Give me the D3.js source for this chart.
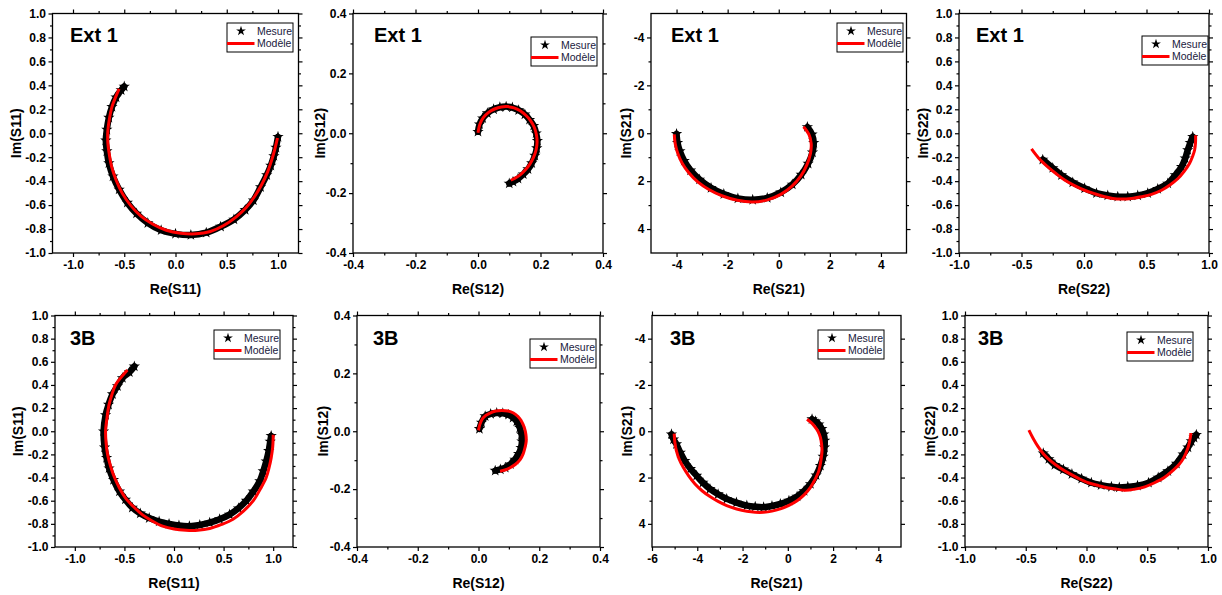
<!DOCTYPE html>
<html><head><meta charset="utf-8">
<script src="https://cdn.jsdelivr.net/npm/d3@7"></script>
<style>
html,body{margin:0;padding:0;background:#fff;}
svg{display:block;}
</style></head>
<body>
<div id="chart"></div>
<script>
// ---------------- DATA (Re, Im) ----------------
// Ext 1
const ext1_S11_mesure = [[-0.50,0.39],[-0.53,0.36],[-0.58,0.30],[-0.62,0.22],[-0.65,0.13],[-0.67,0.03],[-0.68,-0.06],[-0.67,-0.15],[-0.65,-0.25],[-0.61,-0.36],[-0.55,-0.47],[-0.47,-0.58],[-0.38,-0.67],[-0.27,-0.75],[-0.14,-0.81],[0.00,-0.84],[0.15,-0.85],[0.30,-0.83],[0.44,-0.78],[0.57,-0.72],[0.68,-0.64],[0.76,-0.56],[0.83,-0.45],[0.89,-0.35],[0.93,-0.27],[0.96,-0.19],[0.98,-0.12],[1.00,-0.03]];
const ext1_S11_modele = [[-0.55,0.37],[-0.58,0.31],[-0.62,0.22],[-0.645,0.12],[-0.66,0.02],[-0.66,-0.08],[-0.645,-0.18],[-0.62,-0.29],[-0.58,-0.39],[-0.52,-0.50],[-0.44,-0.60],[-0.34,-0.69],[-0.22,-0.76],[-0.09,-0.81],[0.05,-0.835],[0.20,-0.84],[0.34,-0.82],[0.47,-0.77],[0.59,-0.70],[0.69,-0.62],[0.77,-0.53],[0.84,-0.43],[0.90,-0.32],[0.94,-0.22],[0.97,-0.13],[0.995,-0.04]];
const ext1_S12_mesure = [[0.00,0.005],[0.005,0.03],[0.015,0.05],[0.03,0.067],[0.05,0.08],[0.07,0.087],[0.09,0.089],[0.11,0.086],[0.13,0.077],[0.15,0.063],[0.165,0.045],[0.178,0.025],[0.186,0.0],[0.19,-0.025],[0.188,-0.05],[0.182,-0.075],[0.172,-0.10],[0.16,-0.12],[0.145,-0.137],[0.128,-0.152],[0.112,-0.162],[0.10,-0.168]];
const ext1_S12_modele = [[0.0,0.002],[0.006,0.03],[0.017,0.052],[0.033,0.069],[0.053,0.081],[0.075,0.088],[0.095,0.089],[0.115,0.085],[0.135,0.075],[0.153,0.06],[0.168,0.042],[0.18,0.02],[0.187,-0.005],[0.189,-0.03],[0.186,-0.055],[0.178,-0.08],[0.166,-0.103],[0.151,-0.123],[0.134,-0.14],[0.117,-0.151],[0.105,-0.157]];
const ext1_S21_mesure = [[-4.00,0.03],[-3.96,0.40],[-3.87,0.75],[-3.70,1.15],[-3.45,1.55],[-3.10,1.93],[-2.65,2.28],[-2.15,2.54],[-1.60,2.72],[-1.02,2.78],[-0.45,2.70],[0.08,2.47],[0.53,2.14],[0.88,1.73],[1.15,1.27],[1.32,0.80],[1.37,0.40],[1.30,0.05],[1.12,-0.26]];
const ext1_S21_modele = [[-4.09,0.05],[-4.05,0.45],[-3.95,0.85],[-3.78,1.25],[-3.52,1.65],[-3.17,2.03],[-2.72,2.36],[-2.20,2.62],[-1.62,2.80],[-1.02,2.87],[-0.44,2.78],[0.08,2.55],[0.52,2.21],[0.86,1.79],[1.10,1.32],[1.24,0.85],[1.27,0.43],[1.18,0.05],[0.97,-0.27]];
const ext1_S22_mesure = [[-0.33,-0.22],[-0.25,-0.29],[-0.18,-0.35],[-0.09,-0.41],[0.005,-0.46],[0.10,-0.50],[0.19,-0.52],[0.27,-0.53],[0.35,-0.53],[0.43,-0.52],[0.51,-0.50],[0.59,-0.465],[0.67,-0.42],[0.73,-0.35],[0.78,-0.28],[0.81,-0.21],[0.83,-0.14],[0.85,-0.08],[0.87,-0.03]];
const ext1_S22_modele = [[-0.42,-0.13],[-0.36,-0.21],[-0.29,-0.28],[-0.22,-0.34],[-0.155,-0.39],[-0.08,-0.435],[0.005,-0.476],[0.085,-0.505],[0.165,-0.53],[0.23,-0.545],[0.30,-0.55],[0.38,-0.545],[0.46,-0.53],[0.54,-0.51],[0.62,-0.476],[0.69,-0.43],[0.75,-0.38],[0.80,-0.32],[0.845,-0.25],[0.87,-0.19],[0.885,-0.14],[0.892,-0.08],[0.893,-0.017]];
// 3B
const b3_S11_mesure = [[-0.40,0.56],[-0.45,0.51],[-0.52,0.46],[-0.57,0.39],[-0.62,0.32],[-0.66,0.23],[-0.69,0.14],[-0.71,0.0],[-0.70,-0.14],[-0.68,-0.23],[-0.655,-0.32],[-0.61,-0.42],[-0.55,-0.52],[-0.49,-0.59],[-0.42,-0.66],[-0.34,-0.71],[-0.25,-0.75],[-0.15,-0.78],[-0.05,-0.80],[0.05,-0.815],[0.155,-0.82],[0.26,-0.81],[0.36,-0.79],[0.46,-0.76],[0.56,-0.72],[0.65,-0.665],[0.73,-0.60],[0.80,-0.52],[0.865,-0.43],[0.90,-0.345],[0.93,-0.26],[0.955,-0.17],[0.97,-0.09],[0.98,-0.04]];
const b3_S11_modele = [[-0.47,0.53],[-0.53,0.47],[-0.59,0.40],[-0.625,0.32],[-0.655,0.23],[-0.675,0.12],[-0.69,0.0],[-0.685,-0.10],[-0.67,-0.20],[-0.64,-0.30],[-0.60,-0.40],[-0.55,-0.49],[-0.49,-0.575],[-0.41,-0.65],[-0.32,-0.72],[-0.22,-0.775],[-0.115,-0.82],[0.0,-0.845],[0.12,-0.855],[0.24,-0.855],[0.36,-0.84],[0.48,-0.805],[0.595,-0.76],[0.70,-0.69],[0.80,-0.60],[0.87,-0.50],[0.93,-0.40],[0.96,-0.31],[0.98,-0.23],[0.995,-0.14],[1.0,-0.06],[1.0,-0.03]];
const b3_S12_mesure = [[0.003,0.008],[0.01,0.03],[0.022,0.052],[0.04,0.06],[0.06,0.063],[0.08,0.062],[0.099,0.057],[0.114,0.047],[0.126,0.034],[0.136,0.012],[0.142,-0.011],[0.143,-0.035],[0.14,-0.057],[0.132,-0.078],[0.12,-0.098],[0.105,-0.114],[0.088,-0.126],[0.072,-0.132],[0.055,-0.136]];
const b3_S12_modele = [[0.0,0.003],[0.004,0.022],[0.011,0.04],[0.023,0.054],[0.038,0.063],[0.057,0.07],[0.077,0.072],[0.097,0.07],[0.115,0.063],[0.13,0.051],[0.142,0.034],[0.151,0.012],[0.156,-0.011],[0.157,-0.035],[0.153,-0.057],[0.147,-0.078],[0.137,-0.098],[0.122,-0.114],[0.104,-0.126],[0.087,-0.134],[0.071,-0.138]];
const b3_S21_mesure = [[-5.14,0.13],[-5.05,0.35],[-4.92,0.56],[-4.75,0.92],[-4.55,1.28],[-4.30,1.62],[-4.03,1.92],[-3.75,2.22],[-3.44,2.49],[-3.08,2.72],[-2.70,2.92],[-2.27,3.08],[-1.81,3.21],[-1.44,3.26],[-1.07,3.28],[-0.70,3.23],[-0.33,3.14],[0.05,3.00],[0.41,2.82],[0.72,2.58],[1.0,2.28],[1.25,1.90],[1.44,1.49],[1.56,1.10],[1.62,0.70],[1.63,0.40],[1.59,0.13],[1.50,-0.10],[1.37,-0.30],[1.22,-0.43],[1.07,-0.52]];
const b3_S21_modele = [[-5.02,0.10],[-4.99,0.48],[-4.92,0.85],[-4.80,1.21],[-4.62,1.56],[-4.38,1.93],[-4.10,2.28],[-3.79,2.57],[-3.44,2.82],[-3.08,3.03],[-2.70,3.21],[-2.26,3.36],[-1.81,3.46],[-1.44,3.50],[-1.07,3.50],[-0.70,3.45],[-0.33,3.35],[0.05,3.20],[0.41,3.00],[0.73,2.74],[1.0,2.42],[1.21,2.07],[1.37,1.71],[1.46,1.28],[1.51,0.85],[1.49,0.55],[1.44,0.27],[1.33,0.0],[1.17,-0.23],[1.01,-0.39],[0.85,-0.52]];
const b3_S22_mesure = [[-0.356,-0.19],[-0.31,-0.24],[-0.26,-0.29],[-0.19,-0.33],[-0.12,-0.37],[-0.04,-0.41],[0.04,-0.445],[0.12,-0.465],[0.205,-0.48],[0.27,-0.485],[0.34,-0.48],[0.42,-0.47],[0.51,-0.445],[0.59,-0.40],[0.67,-0.345],[0.74,-0.28],[0.795,-0.20],[0.835,-0.14],[0.863,-0.086],[0.885,-0.055],[0.904,-0.03]];
const b3_S22_modele = [[-0.474,0.01],[-0.44,-0.06],[-0.40,-0.13],[-0.35,-0.20],[-0.29,-0.26],[-0.22,-0.315],[-0.15,-0.36],[-0.07,-0.405],[0.014,-0.445],[0.10,-0.47],[0.18,-0.49],[0.25,-0.50],[0.315,-0.51],[0.40,-0.50],[0.48,-0.48],[0.56,-0.445],[0.64,-0.40],[0.71,-0.34],[0.76,-0.29],[0.80,-0.23],[0.836,-0.14],[0.85,-0.08],[0.858,-0.03],[0.858,-0.015]];

// Axis ticks
const ticks_S11_x = [-1.0,-0.5,0.0,0.5,1.0];
const minor_S11_x = [-0.75,-0.25,0.25,0.75];
const ticks_pm1_y = [-1.0,-0.8,-0.6,-0.4,-0.2,0.0,0.2,0.4,0.6,0.8,1.0];
const minor_pm1_y = [-0.9,-0.7,-0.5,-0.3,-0.1,0.1,0.3,0.5,0.7,0.9];
const ticks_S12 = [-0.4,-0.2,0.0,0.2,0.4];
const minor_S12 = [-0.3,-0.1,0.1,0.3];
const ticks_S21_x_ext1 = [-4,-2,0,2,4];
const ticks_S21_x_3b = [-6,-4,-2,0,2,4];
const minor_S21 = [-5,-3,-1,1,3,5];
const ticks_S21_y = [-4,-2,0,2,4];
const ticks_S22_x = [-1.0,-0.5,0.0,0.5,1.0];
const minor_S22_x = [-0.75,-0.25,0.25,0.75];

const titles = ["Ext 1","Ext 1","Ext 1","Ext 1","3B","3B","3B","3B"];
const xLabels = ["Re(S11)","Re(S12)","Re(S21)","Re(S22)","Re(S11)","Re(S12)","Re(S21)","Re(S22)"];
const yLabels = ["Im(S11)","Im(S12)","Im(S21)","Im(S22)","Im(S11)","Im(S12)","Im(S21)","Im(S22)"];
const legendLabels = ["Mesure","Modèle"];

// ---------------- LAYOUT ----------------
const frameL = [52.5, 353, 651, 959, 55, 357, 652, 965];
const frameR = [298.5, 603, 906.5, 1209, 293, 600, 901, 1208];
const frameT = [13.5, 13.5, 13.5, 13.5, 315.5, 315.5, 315.5, 315.5];
const frameB = [253, 253, 253, 253, 547, 547, 547, 547];
const yLabelX = [16, 320, 626, 923, 18, 323, 627, 930];
const titleX = [70, 374, 671, 976, 70, 373, 670, 978];
const titleY = [42, 42, 42, 42, 345, 345, 345, 345];
const legendXY = [[227,23],[531,37],[837,23],[1142,36],[214,330],[530,339],[818,330],[1127,332]];

const fmt1 = v => d3.format(".1f")(v).replace("\u2212","-");
const fmt0 = v => d3.format("d")(v).replace("\u2212","-");

const panels = [
  {mes:ext1_S11_mesure, mod:ext1_S11_modele, xd:[-1.2,1.2], yd:[-1,1], xt:ticks_S11_x, xm:minor_S11_x, yt:ticks_pm1_y, ym:minor_pm1_y, f:fmt1, rev:false},
  {mes:ext1_S12_mesure, mod:ext1_S12_modele, xd:[-0.4,0.4], yd:[-0.4,0.4], xt:ticks_S12, xm:minor_S12, yt:ticks_S12, ym:minor_S12, f:fmt1, rev:false},
  {mes:ext1_S21_mesure, mod:ext1_S21_modele, xd:[-5,5], yd:[-5,5], xt:ticks_S21_x_ext1, xm:minor_S21, yt:ticks_S21_y, ym:minor_S21, f:fmt0, rev:true},
  {mes:ext1_S22_mesure, mod:ext1_S22_modele, xd:[-1,1], yd:[-1,1], xt:ticks_S22_x, xm:minor_S22_x, yt:ticks_pm1_y, ym:minor_pm1_y, f:fmt1, rev:false},
  {mes:b3_S11_mesure, mod:b3_S11_modele, xd:[-1.2,1.2], yd:[-1,1], xt:ticks_S11_x, xm:minor_S11_x, yt:ticks_pm1_y, ym:minor_pm1_y, f:fmt1, rev:false},
  {mes:b3_S12_mesure, mod:b3_S12_modele, xd:[-0.4,0.4], yd:[-0.4,0.4], xt:ticks_S12, xm:minor_S12, yt:ticks_S12, ym:minor_S12, f:fmt1, rev:false},
  {mes:b3_S21_mesure, mod:b3_S21_modele, xd:[-6,5], yd:[-5,5], xt:ticks_S21_x_3b, xm:minor_S21, yt:ticks_S21_y, ym:minor_S21, f:fmt0, rev:true},
  {mes:b3_S22_mesure, mod:b3_S22_modele, xd:[-1,1], yd:[-1,1], xt:ticks_S22_x, xm:minor_S22_x, yt:ticks_pm1_y, ym:minor_pm1_y, f:fmt1, rev:false}
];

const FONT = "'Liberation Sans', Arial, sans-serif";
const svg = d3.select("#chart").append("svg").attr("width",1222).attr("height",595)
  .style("font-family", FONT);

panels.forEach((p,i) => {
  const L=frameL[i], R=frameR[i], T=frameT[i], B=frameB[i];
  const x = d3.scaleLinear().domain(p.xd).range([L,R]);
  const y = d3.scaleLinear().domain(p.yd).range(p.rev ? [T,B] : [B,T]);
  const g = svg.append("g");
  const clipId = "clip"+i;
  g.append("clipPath").attr("id",clipId).append("rect").attr("x",L).attr("y",T).attr("width",R-L).attr("height",B-T);

  function styleAxis(sel, labels){
    sel.select(".domain").remove();
    sel.selectAll(".tick line").attr("stroke","#000").attr("stroke-width",1.2);
    sel.selectAll("text").attr("fill","#000").attr("font-weight","bold").attr("font-size", labels?12:0)
      .attr("font-family", FONT);
  }
  const inX = m => m.filter(v=>v>p.xd[0]&&v<p.xd[1]);
  const inY = m => m.filter(v=>v>p.yd[0]&&v<p.yd[1]);
  // bottom
  g.append("g").attr("transform",`translate(0,${B})`)
    .call(d3.axisBottom(x).tickValues(p.xt).tickSize(4).tickPadding(3.5).tickFormat(p.f)).call(s=>styleAxis(s,true));
  g.append("g").attr("transform",`translate(0,${B})`)
    .call(d3.axisBottom(x).tickValues(inX(p.xm)).tickSize(2.5).tickFormat("")).call(s=>styleAxis(s,false));
  // top
  g.append("g").attr("transform",`translate(0,${T})`)
    .call(d3.axisTop(x).tickValues(p.xt).tickSize(4).tickFormat("")).call(s=>styleAxis(s,false));
  g.append("g").attr("transform",`translate(0,${T})`)
    .call(d3.axisTop(x).tickValues(inX(p.xm)).tickSize(2.5).tickFormat("")).call(s=>styleAxis(s,false));
  // left
  g.append("g").attr("transform",`translate(${L},0)`)
    .call(d3.axisLeft(y).tickValues(p.yt).tickSize(4).tickPadding(2.5).tickFormat(p.f)).call(s=>styleAxis(s,true));
  g.append("g").attr("transform",`translate(${L},0)`)
    .call(d3.axisLeft(y).tickValues(inY(p.ym)).tickSize(2.5).tickFormat("")).call(s=>styleAxis(s,false));
  // right
  g.append("g").attr("transform",`translate(${R},0)`)
    .call(d3.axisRight(y).tickValues(p.yt).tickSize(4).tickFormat("")).call(s=>styleAxis(s,false));
  g.append("g").attr("transform",`translate(${R},0)`)
    .call(d3.axisRight(y).tickValues(inY(p.ym)).tickSize(2.5).tickFormat("")).call(s=>styleAxis(s,false));

  // frame
  g.append("rect").attr("x",L).attr("y",T).attr("width",R-L).attr("height",B-T)
    .attr("fill","none").attr("stroke","#000").attr("stroke-width",1.3);

  // data
  const line = d3.line().x(d=>x(d[0])).y(d=>y(d[1])).curve(d3.curveCatmullRom);
  const dg = g.append("g").attr("clip-path",`url(#${clipId})`);
  dg.append("path").datum(p.mes).attr("d",line).attr("fill","none").attr("stroke","#000")
    .attr("stroke-width",6.5).attr("stroke-linejoin","round").attr("stroke-linecap","round");
  const star = d3.symbol().type(d3.symbolStar).size(40);
  dg.selectAll("path.star").data(p.mes).join("path").attr("class","star")
    .attr("transform",d=>`translate(${x(d[0])},${y(d[1])})`).attr("d",star).attr("fill","#000");
  dg.append("path").datum(p.mod).attr("d",line).attr("fill","none").attr("stroke","#ff0000")
    .attr("stroke-width",3).attr("stroke-linejoin","round");

  // title
  g.append("text").attr("x",titleX[i]).attr("y",titleY[i]).text(titles[i])
    .attr("font-size",20).attr("font-weight","bold").attr("fill","#000");
  // axis labels
  g.append("text").attr("x",(L+R)/2).attr("y",B+41).attr("text-anchor","middle")
    .attr("font-size",14).attr("font-weight","bold").attr("fill","#000").text(xLabels[i]);
  g.append("text").attr("transform",`translate(${yLabelX[i]+5},${(T+B)/2}) rotate(-90)`)
    .attr("text-anchor","middle").attr("font-size",14).attr("font-weight","bold").attr("fill","#000").text(yLabels[i]);

  // legend
  const [lx,ly] = legendXY[i];
  const lg = g.append("g").attr("transform",`translate(${lx},${ly})`);
  lg.append("rect").attr("width",66).attr("height",29).attr("fill","#fff").attr("stroke","#000").attr("stroke-width",1);
  lg.append("path").attr("transform","translate(14,8)").attr("d",d3.symbol().type(d3.symbolStar).size(30)).attr("fill","#000");
  lg.append("text").attr("x",30).attr("y",11.5).attr("font-size",10.5).attr("fill","#1a1a40").text(legendLabels[0]);
  lg.append("line").attr("x1",0).attr("x2",27.5).attr("y1",20.5).attr("y2",20.5).attr("stroke","#ff0000").attr("stroke-width",3);
  lg.append("text").attr("x",30).attr("y",24).attr("font-size",10.5).attr("fill","#1a1a40").text(legendLabels[1]);
});
</script>
</body></html>
